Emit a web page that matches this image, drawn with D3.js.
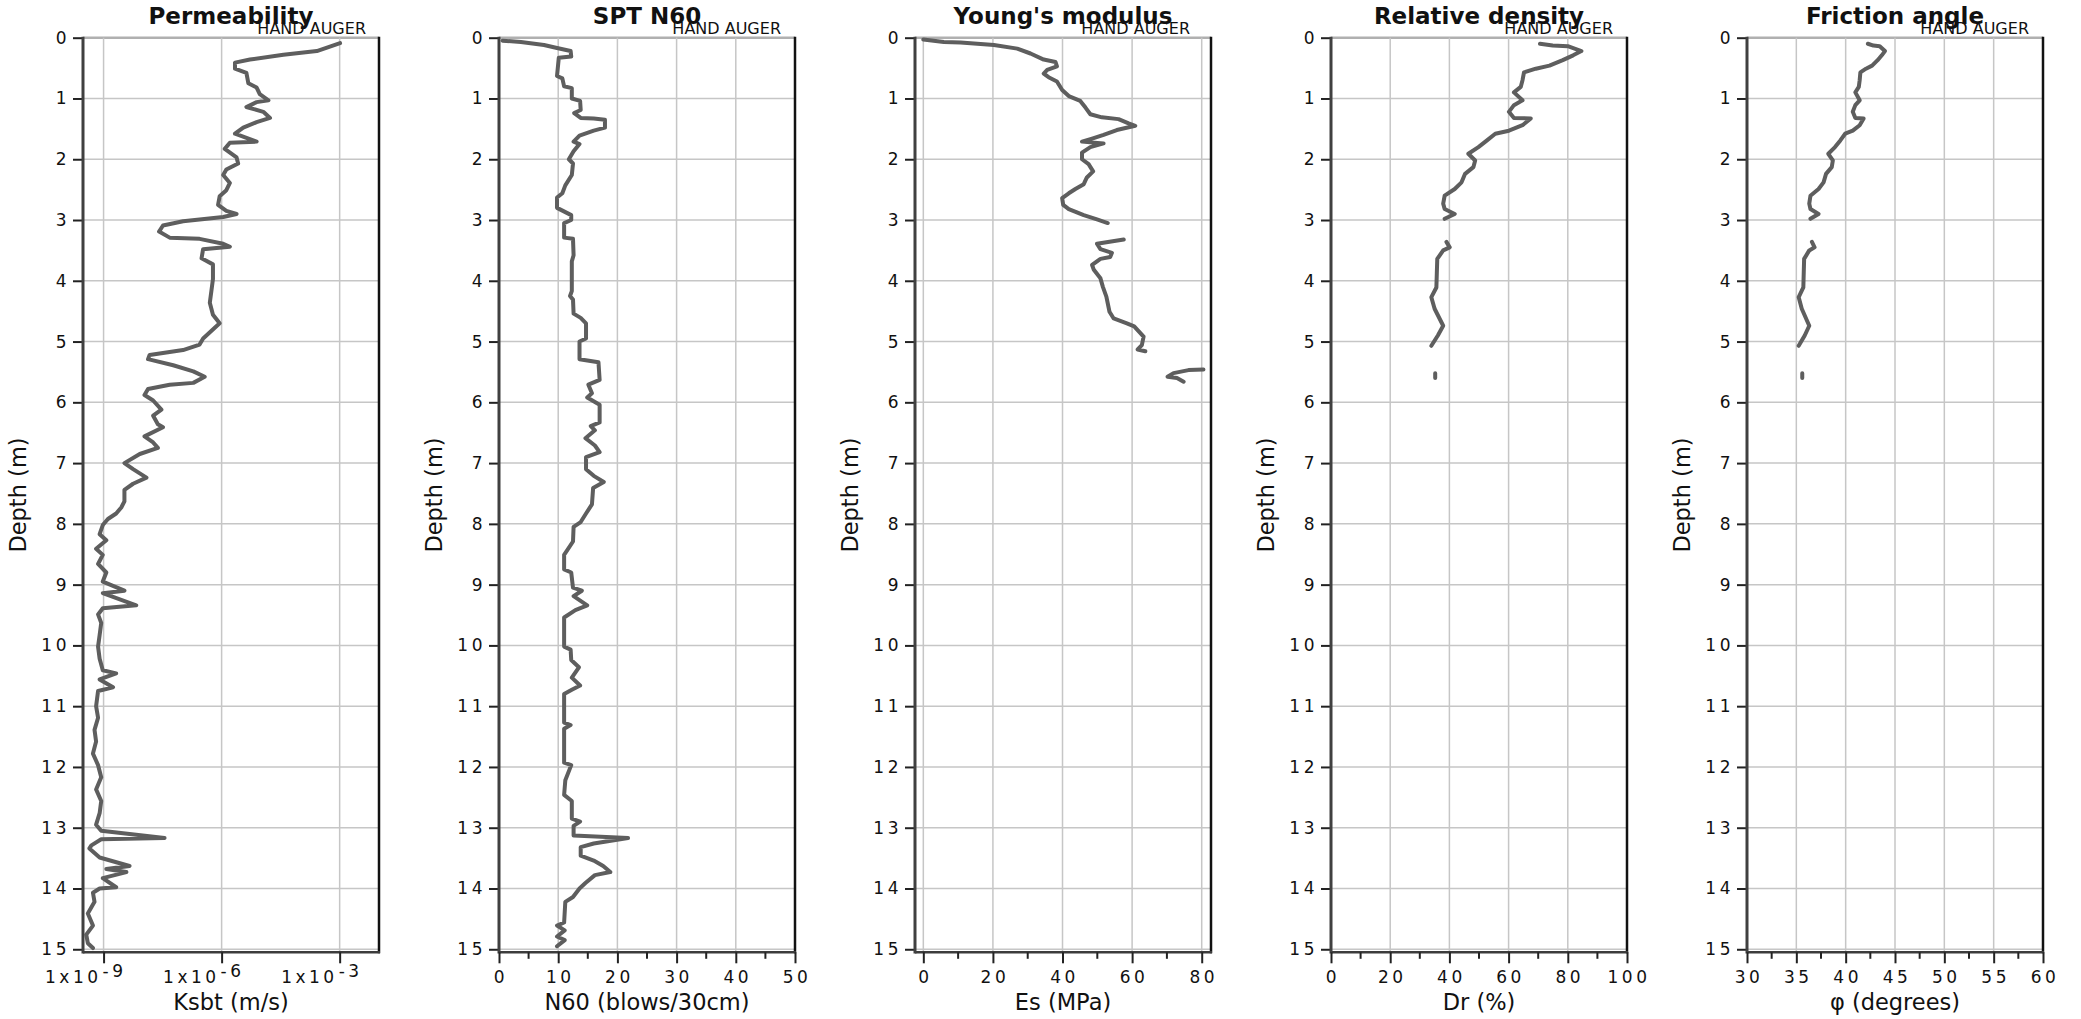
<!DOCTYPE html>
<html><head><meta charset="utf-8">
<script src="https://cdn.jsdelivr.net/npm/d3@7"></script>
<style>
body{margin:0;background:#fff;}
svg{display:block;}
text{font-family:"DejaVu Sans",Verdana,sans-serif;fill:#111;}
</style>
</head><body>
<svg id="chart" width="2081" height="1019"></svg>
<script>
// ---------------- DATA ----------------
const depthTicks = [0,1,2,3,4,5,6,7,8,9,10,11,12,13,14,15];

const titles = ["Permeability","SPT N60","Young's modulus","Relative density","Friction angle"];
const xTitles = ["Ksbt (m/s)","N60 (blows/30cm)","Es (MPa)","Dr (%)","\u03C6 (degrees)"];
const sideNote = "HAND AUGER";

// Permeability (log10 of Ksbt, m/s)
const ksbtDepth = [0.09,0.22,0.28,0.36,0.41,0.51,0.58,0.75,0.82,0.93,
 1.03,1.06,1.14,1.22,1.32,1.39,1.48,1.58,1.71,1.73,
 1.83,1.97,2.07,2.17,2.26,2.39,2.51,2.61,2.75,2.85,
 2.90,2.95,3.02,3.09,3.19,3.29,3.31,3.39,3.44,3.48,
 3.63,3.73,3.97,4.17,4.36,4.56,4.70,4.95,5.05,5.14,
 5.22,5.29,5.39,5.49,5.58,5.68,5.71,5.78,5.88,5.97,
 6.12,6.22,6.36,6.41,6.56,6.66,6.75,6.85,7.00,7.10,
 7.24,7.34,7.44,7.63,7.73,7.83,7.92,8.02,8.17,8.27,
 8.41,8.51,8.66,8.80,8.95,9.10,9.14,9.34,9.39,9.49,
 9.63,9.83,10.02,10.22,10.41,10.46,10.56,10.69,10.75,11.00,
 11.19,11.39,11.58,11.78,11.97,12.17,12.37,12.56,12.76,12.95,
 13.05,13.17,13.19,13.29,13.34,13.49,13.63,13.68,13.73,13.83,
 13.98,14.00,14.07,14.22,14.41,14.61,14.76,14.90,14.98];
const ksbtLog = [-2.99,-3.58,-4.43,-5.28,-5.66,-5.66,-5.37,-5.32,-5.11,-5.03,
 -4.81,-5.11,-5.37,-4.94,-4.77,-5.11,-5.45,-5.66,-5.11,-5.79,
 -5.92,-5.62,-5.58,-5.88,-5.96,-5.79,-5.88,-6.05,-6.09,-5.88,
 -5.62,-5.96,-6.98,-7.49,-7.59,-7.32,-6.56,-5.96,-5.79,-6.47,
 -6.51,-6.22,-6.22,-6.26,-6.30,-6.22,-6.05,-6.47,-6.56,-6.98,
 -7.83,-7.87,-7.23,-6.72,-6.43,-6.72,-7.32,-7.87,-7.96,-7.74,
 -7.53,-7.74,-7.62,-7.49,-7.96,-7.74,-7.62,-8.08,-8.47,-8.25,
 -7.91,-8.25,-8.47,-8.47,-8.55,-8.68,-8.89,-9.02,-9.10,-8.93,
 -9.19,-9.02,-9.14,-8.93,-9.02,-8.47,-9.02,-8.17,-9.02,-9.14,
 -9.06,-9.10,-9.14,-9.10,-9.02,-8.68,-9.10,-8.76,-9.14,-9.19,
 -9.14,-9.23,-9.19,-9.27,-9.14,-9.06,-9.19,-9.06,-9.10,-9.19,
 -9.06,-7.45,-9.06,-9.31,-9.36,-9.10,-8.34,-8.93,-8.42,-9.02,
 -8.68,-9.10,-9.27,-9.23,-9.40,-9.27,-9.44,-9.40,-9.27];

// SPT N60
const n60Depth = [0.05,0.07,0.12,0.17,0.22,0.31,0.33,0.63,0.67,0.80,
 0.83,1.00,1.04,1.19,1.24,1.32,1.33,1.35,1.48,1.53,
 1.61,1.71,1.75,1.87,2.00,2.07,2.26,2.43,2.56,2.63,
 2.80,2.85,2.92,3.00,3.05,3.29,3.31,3.58,3.68,4.17,
 4.25,4.31,4.54,4.61,4.70,4.95,5.00,5.29,5.34,5.63,
 5.71,5.85,5.92,6.04,6.33,6.39,6.46,6.59,6.71,6.82,
 6.90,7.10,7.21,7.31,7.41,7.68,7.83,7.97,8.05,8.29,
 8.51,8.75,8.80,9.05,9.10,9.19,9.34,9.42,9.54,10.02,
 10.07,10.24,10.36,10.53,10.66,10.73,10.80,11.27,11.31,11.37,
 11.93,11.97,12.22,12.46,12.56,12.85,12.90,12.97,13.13,13.17,
 13.26,13.32,13.46,13.54,13.63,13.73,13.78,13.91,14.00,14.14,
 14.22,14.56,14.61,14.69,14.79,14.85,14.95];
const n60 = [0.6,3.7,7.6,9.8,12.1,12.2,10.1,9.8,10.7,11.0,
 12.3,12.3,13.7,13.8,12.7,13.8,16.0,17.9,17.9,16.0,
 13.6,12.6,13.6,12.6,11.8,12.5,12.3,11.2,10.7,9.8,
 9.8,10.8,12.2,12.2,11.0,11.0,12.5,12.6,12.3,12.3,
 12.0,12.5,12.6,13.8,14.7,14.7,13.6,13.6,16.8,17.0,
 15.1,15.7,14.9,17.0,17.0,15.5,16.2,14.6,16.2,17.0,
 14.7,14.7,16.0,17.7,15.9,15.7,14.7,13.8,12.6,12.5,
 11.0,11.0,12.2,12.5,14.0,12.6,14.9,12.9,11.0,11.0,
 12.1,12.2,13.5,12.3,13.7,12.3,11.0,11.0,12.1,11.0,
 11.0,12.2,11.2,11.0,12.3,12.3,13.7,12.6,12.6,21.8,
 16.0,13.8,13.8,16.0,17.6,18.8,16.2,14.6,13.6,12.5,
 11.2,11.0,9.8,11.1,9.8,11.1,9.8];

// Young's modulus Es (MPa); null = gap in record
const esDepth = [0.03,0.07,0.08,0.12,0.18,0.26,0.36,0.40,0.47,0.53,
 0.59,0.65,0.72,0.86,0.96,1.04,1.15,1.26,1.31,1.34,
 1.41,1.45,1.52,1.60,1.66,1.71,1.74,1.80,1.89,2.00,
 2.08,2.20,2.30,2.41,2.49,2.56,2.64,2.75,2.82,2.92,
 2.99,3.05,3.10,
 3.32,3.39,3.48,3.54,3.61,3.64,3.74,3.82,3.96,4.10,4.26,4.51,4.62,4.70,4.75,4.92,5.06,5.13,5.16,
 5.30,
 5.46,5.47,5.52,5.58,5.60,5.66];
const es = [0,5.9,10.7,20.3,27.0,30.8,34.6,38.0,38.4,35.6,
 34.6,36.0,38.4,39.9,41.8,45.1,46.6,48.0,51.3,56.1,
 59.0,60.9,55.6,51.8,48.5,45.6,51.8,48.0,45.6,45.6,
 47.5,48.8,47.0,46.1,43.7,41.8,39.9,40.2,41.8,46.1,
 49.9,53.0,null,
 57.6,49.9,50.9,54.2,53.7,50.9,48.5,49.0,50.9,51.6,52.6,53.5,54.7,58.5,60.6,63.3,62.8,61.6,63.8,
 null,
 80.5,76.2,71.9,70.2,72.9,74.8];

// Relative density Dr (%) and friction angle (degrees), same sounding depths
const drDepth = [0.10,0.13,0.14,0.22,0.29,0.37,0.46,0.51,0.57,0.70,
 0.81,0.90,1.03,1.11,1.22,1.32,1.33,1.44,1.53,1.58,
 1.69,1.80,1.91,2.02,2.13,2.24,2.38,2.49,2.60,2.73,
 2.82,2.90,2.98,3.15,
 3.36,3.45,3.50,3.64,4.11,4.27,4.46,4.74,4.90,5.07,5.30,
 5.52,5.60];
const dr = [70.6,74.9,80.0,84.6,81.8,78.3,73.8,69.2,65.2,64.7,
 64.1,61.8,64.7,61.8,60.1,61.8,67.5,64.7,60.1,55.5,
 52.7,49.8,46.4,48.7,48.1,45.3,44.1,41.8,38.4,37.9,
 38.4,41.8,38.4,null,
 39.0,40.1,37.9,35.9,35.6,33.9,35.0,37.9,36.1,33.9,null,
 35.2,35.2];
const phi = [42.25,42.82,43.45,43.98,43.66,43.24,42.68,42.06,41.49,41.42,
 41.33,40.98,41.42,40.98,40.72,40.98,41.82,41.42,40.72,39.95,
 39.46,38.92,38.24,38.70,38.59,38.01,37.76,37.25,36.43,36.31,
 36.43,37.25,36.43,null,
 36.58,36.85,36.31,35.79,35.71,35.24,35.55,36.31,35.85,35.24,null,
 35.6,35.6];

// Axis ticks
const ksbtTicks = [1e-9,1e-6,1e-3];
const ksbtTickExp = ["-9","-6","-3"];
const n60Ticks = [0,10,20,30,40,50], n60Minor = [5,15,25,35,45];
const esTicks = [0,20,40,60,80], esMinor = [10,30,50,70];
const drTicks = [0,20,40,60,80,100], drMinor = [10,30,50,70,90];
const phiTicks = [30,35,40,45,50,55,60], phiMinor = [32.5,37.5,42.5,47.5,52.5,57.5];

// ---------------- LAYOUT ----------------
const svg = d3.select("#chart");
const PW = 296, TOP = 37.7, BOT = 952.3, LEFT0 = 83, STEP = 416;
const CURVE = "#5e5e5e", GRID = "#c6c6c6";

const y = d3.scaleLinear().domain([0, 15.05]).range([TOP, BOT]);

const panels = [
  {log:true, domain:[3e-10,1e-2], depth:ksbtDepth, vals:ksbtLog.map(v=>Math.pow(10,v)), ticks:ksbtTicks, minor:[], grid:ksbtTicks, noteOff:13},
  {domain:[0,50], depth:n60Depth, vals:n60, ticks:n60Ticks, minor:n60Minor, grid:[10,20,30,40], noteOff:14},
  {domain:[-2.39,82.67], depth:esDepth, vals:es, ticks:esTicks, minor:esMinor, grid:[0,20,40,60,80], noteOff:21},
  {domain:[0,100], depth:drDepth, vals:dr, ticks:drTicks, minor:drMinor, grid:[20,40,60,80], noteOff:14},
  {domain:[30,60], depth:drDepth, vals:phi, ticks:phiTicks, minor:phiMinor, grid:[35,40,45,50,55], noteOff:14}
];

panels.forEach((p, i) => {
  const x0 = LEFT0 + i*STEP, x1 = x0 + PW;
  const x = (p.log ? d3.scaleLog() : d3.scaleLinear()).domain(p.domain).range([x0, x1]);
  const g = svg.append("g");

  // horizontal grid
  g.append("g").selectAll("line").data(depthTicks).join("line")
    .attr("x1", x0).attr("x2", x1)
    .attr("y1", d => y(d)).attr("y2", d => y(d))
    .attr("stroke", d => d === 0 ? "#b0b0b0" : GRID)
    .attr("stroke-width", d => d === 0 ? 2.5 : 1.5);
  // vertical grid
  g.append("g").selectAll("line").data(p.grid).join("line")
    .attr("x1", d => x(d)).attr("x2", d => x(d))
    .attr("y1", TOP).attr("y2", BOT)
    .attr("stroke", GRID).attr("stroke-width", 1.5);

  // curve
  const pts = p.depth.map((d, k) => ({d, v: p.vals[k]}));
  g.append("path").datum(pts)
    .attr("fill", "none").attr("stroke", CURVE).attr("stroke-width", 4)
    .attr("stroke-linejoin", "round").attr("stroke-linecap", "round")
    .attr("d", d3.line().defined(q => q.v != null && !isNaN(q.v)).x(q => x(q.v)).y(q => y(q.d)));

  // frame: right and bottom
  g.append("line").attr("x1", x1).attr("x2", x1).attr("y1", TOP - 1).attr("y2", BOT + 1)
    .attr("stroke", "#111").attr("stroke-width", 2.5);
  g.append("line").attr("x1", x0).attr("x2", x1 + 1).attr("y1", BOT).attr("y2", BOT)
    .attr("stroke", "#3c3c3c").attr("stroke-width", 2.5);

  // y axis
  const ya = g.append("g").attr("transform", `translate(${x0},0)`)
    .call(d3.axisLeft(y).tickValues(depthTicks).tickSize(10).tickSizeOuter(0).tickPadding(0).tickFormat(d3.format("d")));
  ya.select(".domain").remove();
  ya.selectAll(".tick line").attr("stroke", "#222").attr("stroke-width", 2);
  ya.selectAll(".tick text").attr("x", -13).attr("font-size", 17).attr("letter-spacing", 3.5)
    .attr("font-family", "DejaVu Sans").attr("fill", "#111");
  g.append("line").attr("x1", x0).attr("x2", x0).attr("y1", TOP - 1).attr("y2", BOT + 1.2)
    .attr("stroke", "#404040").attr("stroke-width", 3);

  // x axis
  const xa = g.append("g").attr("transform", `translate(0,${BOT})`)
    .call(d3.axisBottom(x).tickValues(p.ticks).tickSize(11).tickSizeOuter(0)
      .tickFormat(p.log ? "" : d3.format("d")));
  xa.select(".domain").remove();
  xa.selectAll(".tick line").attr("stroke", "#222").attr("stroke-width", 2);
  xa.selectAll(".tick text").attr("y", 0).attr("dy", 0).attr("transform", "translate(1.5,31)")
    .attr("font-size", 17).attr("letter-spacing", 3.5).attr("font-family", "DejaVu Sans").attr("fill", "#111");
  // minor ticks
  g.append("g").selectAll("line").data(p.minor).join("line")
    .attr("x1", d => x(d)).attr("x2", d => x(d)).attr("y1", BOT).attr("y2", BOT + 6.5)
    .attr("stroke", "#222").attr("stroke-width", 2);

  if (p.log) {
    const lab = g.append("g");
    p.ticks.forEach((t, k) => {
      lab.append("text").attr("x", x(t) - 2).attr("y", BOT + 31).attr("text-anchor", "end")
        .attr("font-size", 17).attr("letter-spacing", 3.5).text("1x10");
      lab.append("text").attr("x", x(t) - 1).attr("y", BOT + 25).attr("text-anchor", "start")
        .attr("font-size", 17).attr("letter-spacing", 3.5).text(ksbtTickExp[k]);
    });
  }

  // titles
  g.append("text").attr("x", (x0 + x1) / 2).attr("y", 24).attr("text-anchor", "middle")
    .attr("font-size", 23).attr("font-weight", "bold").text(titles[i]);
  g.append("text").attr("x", x1 - p.noteOff).attr("y", 34).attr("text-anchor", "end")
    .attr("font-size", 16).text(sideNote);
  g.append("text").attr("x", (x0 + x1) / 2).attr("y", 1010).attr("text-anchor", "middle")
    .attr("font-size", 22.5).text(xTitles[i]);
  g.append("text").attr("transform", `translate(${x0 - 57},${(TOP + BOT) / 2}) rotate(-90)`)
    .attr("text-anchor", "middle").attr("font-size", 22.5).text("Depth (m)");
});
</script>
</body></html>
